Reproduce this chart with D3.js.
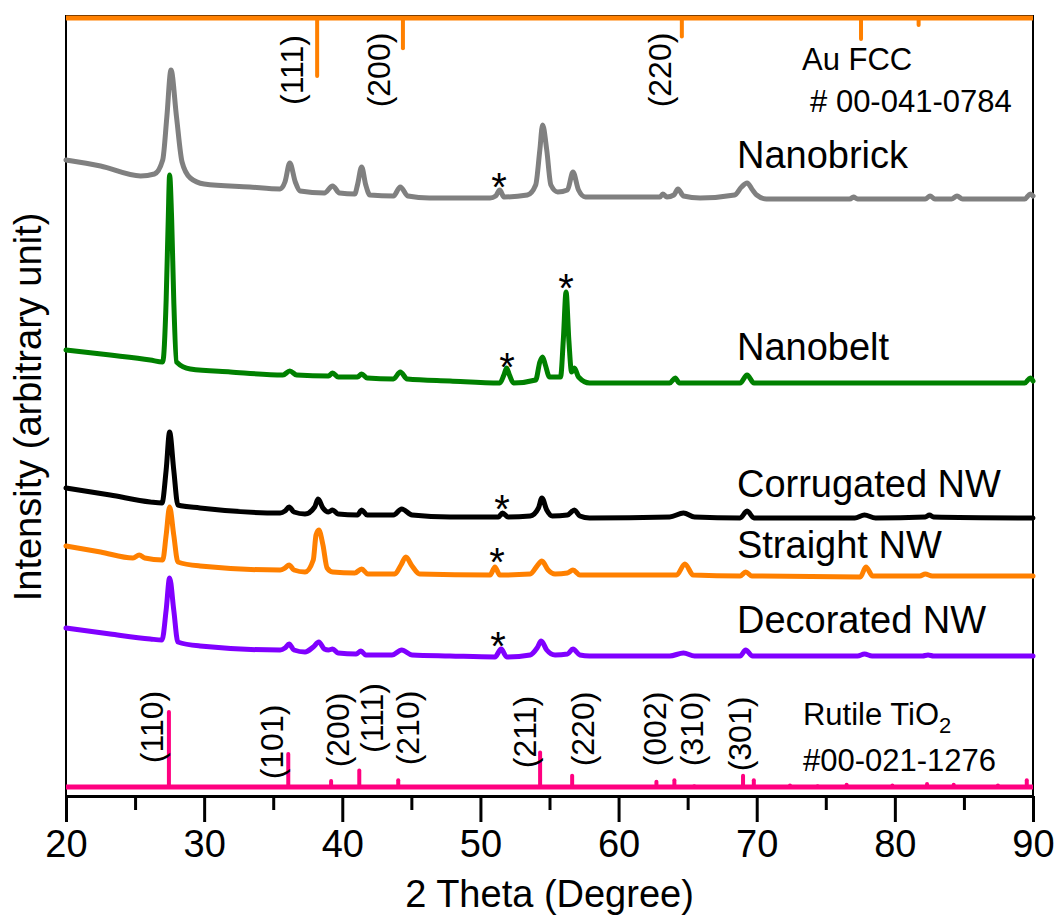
<!DOCTYPE html>
<html lang="en">
<head>
<meta charset="utf-8">
<title>XRD | TiO2 / Au nanostructures</title>
<script src="https://cdn.jsdelivr.net/npm/d3@7"></script>
<style>
  body { margin: 0; background: #fff; }
  text { font-family: "Liberation Sans", Arial, sans-serif; fill: #000; }
  .trace { fill: none; stroke-width: 5; stroke-linejoin: round; stroke-linecap: round; }
</style>
</head>
<body>
<div id="chart"></div>
<script>
// [2 theta, intensity (a.u., offset already applied)]
const nanobrick = [[20,636],[22.5,630],[25.4,620],[26.4,622],[27.0,636],[27.3,679],[27.6,726],[28.0,679],[28.4,634],[29.0,618],[30.0,612],[33.3,609],[35.5,607],[35.85,614],[36.2,633],[36.6,614],[36.95,605],[38.7,603],[39.3,610],[39.8,603],[40.9,602],[41.1,611],[41.4,629],[41.7,611],[42.0,601],[43.7,600],[44.2,609],[44.75,600],[46.3,598],[50.7,598],[51.1,600],[51.4,606],[51.7,599],[53.4,601],[54.0,611],[54.3,646],[54.5,671],[54.8,646],[55.1,611],[55.6,604],[56.3,606],[56.7,624],[57.1,606],[57.6,599],[61.5,599],[63.0,599],[63.2,602],[63.5,599],[64.0,601],[64.3,607],[64.7,600],[65.9,598],[68.4,601],[68.9,609],[69.3,613],[69.7,606],[70.0,601],[70.7,597],[76.75,597],[77.0,599],[77.3,597],[82.2,597],[82.55,600],[82.9,597],[84.1,597],[84.5,600],[84.9,597],[89.4,597],[89.8,602],[90,600]];
const nanobelt = [[20,446],[23.2,441],[26.1,436],[27.0,434],[27.25,496],[27.4,576],[27.5,621],[27.65,576],[27.8,496],[28.0,434],[29.0,427],[31.9,424],[35.7,421],[36.2,425],[36.7,421],[39.0,420],[39.3,423],[39.7,419],[41.1,419],[41.4,422],[41.8,418],[43.7,417],[44.2,424],[44.7,417],[47.8,415],[51.4,413],[51.7,421],[51.9,428],[52.1,421],[52.4,413],[54.0,416],[54.3,434],[54.5,439],[54.7,431],[55.0,419],[55.8,419],[56.0,456],[56.2,504],[56.4,456],[56.6,424],[56.8,428],[57.1,419],[57.9,413],[63.7,413],[64.1,418],[64.4,413],[68.8,413],[69.3,421],[69.8,413],[89.4,413],[89.8,418],[90,415]];
const corrugated = [[20,308],[23.2,301],[26.1,294],[26.95,293],[27.25,326],[27.5,364],[27.8,326],[28.1,291],[29.7,288],[35.5,283],[35.85,285],[36.15,289],[36.5,284],[37.3,282],[38.0,289],[38.25,297],[38.6,288],[39.0,284],[39.3,286],[39.7,282],[41.1,281],[41.4,286],[41.8,281],[43.7,281],[44.3,287],[45.05,281],[47.8,279],[51.3,279],[51.6,283],[52.0,279],[53.6,280],[54.2,288],[54.45,298],[54.8,286],[55.2,280],[56.3,281],[56.8,286],[57.2,280],[57.9,278],[63.7,279],[64.7,283],[65.5,279],[68.8,278],[69.3,285],[69.8,278],[77.1,278],[77.8,281],[78.6,278],[82.2,279],[82.5,281],[82.8,279],[90,278]];
const straight = [[20,250],[22.5,244],[24.85,238],[25.3,241],[25.7,238],[27.0,236],[27.25,261],[27.5,289],[27.8,261],[28.1,234],[29.7,230],[35.5,226],[35.85,228],[36.15,231],[36.5,226],[37.3,224],[37.9,236],[38.1,261],[38.3,266],[38.6,251],[38.9,228],[39.3,224],[40.9,223],[41.4,227],[41.85,222],[43.8,222],[44.25,231],[44.6,239],[45.05,230],[45.6,222],[50.7,221],[51.05,229],[51.4,221],[53.6,222],[54.1,230],[54.45,235],[54.9,226],[55.4,222],[56.3,223],[56.7,226],[57.2,221],[64.2,221],[64.8,232],[65.4,221],[68.8,220],[69.2,224],[69.65,220],[77.5,219],[77.9,229],[78.4,220],[81.8,220],[82.2,222],[82.7,220],[90,220]];
const decorated = [[20,168],[23.2,162],[26.1,157],[26.95,156],[27.25,186],[27.5,218],[27.8,186],[28.1,154],[29.7,150],[35.5,146],[35.85,148],[36.15,152],[36.5,146],[37.3,144],[37.9,149],[38.3,154],[38.7,147],[39.0,146],[39.3,147],[39.7,143],[41.0,142],[41.35,145],[41.7,141],[43.6,141],[44.3,146],[45.05,141],[47.8,140],[51.05,139],[51.5,147],[51.9,139],[53.6,141],[54.1,148],[54.4,155],[54.8,146],[55.4,141],[56.3,142],[56.7,147],[57.2,141],[57.9,140],[63.7,140],[64.7,143],[65.5,140],[68.8,140],[69.2,146],[69.7,140],[77.3,140],[77.8,142],[78.35,140],[82.0,140],[82.4,141],[82.8,140],[90,140]];

const seriesNames = ["Nanobrick", "Nanobelt", "Corrugated NW", "Straight NW", "Decorated NW"];
const seriesColors = ["#808080", "#008000", "#000000", "#ff8000", "#8000ff"];
const seriesLabelY = [628, 436, 299, 238, 163];
// asterisk marks [2 theta, intensity]
const stars = [[51.35,619],[51.92,439],[56.2,518],[51.56,297],[51.2,244],[51.27,160]];

// reference patterns
const auTheta = [38.18, 44.39, 64.58, 77.55, 81.72];
const auRel = [100, 52, 32, 36, 12];
const auHkl = ["(111)", "(200)", "(220)"];
const auHklTheta = [36.36, 42.66, 63.0];
const auBase = 778;

const rutileTheta = [27.45, 36.09, 39.19, 41.23, 44.05, 54.32, 56.64, 62.74, 64.04, 65.48, 69.01, 69.79, 72.41, 74.41, 76.51, 79.82, 82.33, 84.26, 87.46, 89.55];
const rutileRel = [100, 44, 8, 22, 9, 46, 15, 7, 9, 1, 15, 9, 2, 1, 3, 2, 4, 3, 2, 9];
const rutileHkl = ["(110)", "(101)", "(200)", "(111)", "(210)", "(211)", "(220)", "(002)", "(310)", "(301)"];
const rutileHklTheta = [26.23, 34.91, 39.69, 42.15, 44.76, 53.23, 57.43, 62.64, 65.32, 68.79];
const rutileHklY = [69, 54, 66, 78, 68, 64, 67, 67, 67, 62];
const rutileBase = 9;

const xTicks = [20, 30, 40, 50, 60, 70, 80, 90];
const xMinor = [25, 35, 45, 55, 65, 75, 85];

const W = 1059, H = 920;
const margin = {top: 16, right: 26, bottom: 124, left: 66};
const w = W - margin.left - margin.right;
const h = H - margin.top - margin.bottom;

const x = d3.scaleLinear().domain([20, 90]).range([0, w]);
const y = d3.scaleLinear().domain([0, 780]).range([h, 0]);
const auLen = d3.scaleLinear().domain([0, 100]).range([0, 58]);
const rutLen = d3.scaleLinear().domain([0, 100]).range([0, 75]);

const svg = d3.select("#chart").append("svg")
    .attr("width", W)
    .attr("height", H);

const g = svg.append("g")
    .attr("transform", "translate(" + margin.left + "," + margin.top + ")");

// frame
g.append("rect")
    .attr("width", w)
    .attr("height", h)
    .attr("fill", "none")
    .attr("stroke", "#000")
    .attr("stroke-width", 2);

const line = d3.line()
    .x(d => x(d[0]))
    .y(d => y(d[1]))
    .curve(d3.curveMonotoneX);

const data = [nanobrick, nanobelt, corrugated, straight, decorated];
data.forEach((s, i) => {
  g.append("path")
      .datum(s)
      .attr("class", "trace")
      .attr("stroke", seriesColors[i])
      .attr("d", line);
  g.append("text")
      .attr("x", x(68.57))
      .attr("y", y(seriesLabelY[i]))
      .attr("font-size", 38)
      .text(seriesNames[i]);
});

g.selectAll(".star")
  .data(stars)
  .enter().append("text")
    .attr("class", "star")
    .attr("x", d => x(d[0]))
    .attr("y", d => y(d[1]))
    .attr("dy", "0.6em")
    .attr("text-anchor", "middle")
    .attr("font-size", 40)
    .text("*");

// Au FCC reference (hanging from the top)
g.append("line")
    .attr("x1", 0).attr("x2", w)
    .attr("y1", y(auBase)).attr("y2", y(auBase))
    .attr("stroke", "#ff8000").attr("stroke-width", 5);
g.selectAll(".au")
  .data(auTheta)
  .enter().append("line")
    .attr("class", "au")
    .attr("x1", d => x(d)).attr("x2", d => x(d))
    .attr("y1", y(auBase))
    .attr("y2", (d, i) => y(auBase) + auLen(auRel[i]))
    .attr("stroke", "#ff8000").attr("stroke-width", 4)
    .attr("stroke-linecap", "round");
auHkl.forEach((t, i) => {
  g.append("text")
      .attr("transform", "translate(" + x(auHklTheta[i]) + "," + y(726) + ") rotate(-90)")
      .attr("text-anchor", "middle")
      .attr("dy", "0.35em")
      .attr("font-size", 32)
      .text(t);
});
g.append("text").attr("x", x(73.28)).attr("y", y(726)).attr("font-size", 31).text("Au FCC");
g.append("text").attr("x", x(73.86)).attr("y", y(684)).attr("font-size", 31).text("# 00-041-0784");

// Rutile TiO2 reference
g.append("line")
    .attr("x1", 0).attr("x2", w)
    .attr("y1", y(rutileBase)).attr("y2", y(rutileBase))
    .attr("stroke", "#ff0080").attr("stroke-width", 5);
g.selectAll(".rut")
  .data(rutileTheta)
  .enter().append("line")
    .attr("class", "rut")
    .attr("x1", d => x(d)).attr("x2", d => x(d))
    .attr("y1", y(rutileBase))
    .attr("y2", (d, i) => y(rutileBase) - rutLen(rutileRel[i]))
    .attr("stroke", "#ff0080").attr("stroke-width", 4)
    .attr("stroke-linecap", "round");
rutileHkl.forEach((t, i) => {
  g.append("text")
      .attr("transform", "translate(" + x(rutileHklTheta[i]) + "," + y(rutileHklY[i]) + ") rotate(-90)")
      .attr("text-anchor", "middle")
      .attr("dy", "0.35em")
      .attr("font-size", 32)
      .text(t);
});
const rt = g.append("text").attr("x", x(73.35)).attr("y", y(71)).attr("font-size", 31);
rt.append("tspan").text("Rutile TiO");
rt.append("tspan").attr("dy", 8).attr("font-size", 22).text("2");
g.append("text").attr("x", x(73.35)).attr("y", y(25)).attr("font-size", 31).text("#00-021-1276");

// axes
const xAxis = g.append("g")
    .attr("transform", "translate(0," + h + ")")
    .call(d3.axisBottom(x).tickValues(xTicks).tickSize(26).tickSizeOuter(0).tickPadding(8));
xAxis.select(".domain").attr("stroke-width", 3);
xAxis.selectAll(".tick line").attr("stroke-width", 3);
xAxis.selectAll(".tick text").attr("font-size", 38).attr("font-family", "Liberation Sans, Arial, sans-serif");

const minor = g.append("g")
    .attr("transform", "translate(0," + h + ")")
    .call(d3.axisBottom(x).tickValues(xMinor).tickSize(14).tickFormat(""));
minor.select(".domain").remove();
minor.selectAll(".tick line").attr("stroke-width", 3);

svg.append("text")
    .attr("x", margin.left + w / 2)
    .attr("y", 907)
    .attr("text-anchor", "middle")
    .attr("font-size", 38)
    .text("2 Theta (Degree)");

svg.append("text")
    .attr("transform", "translate(41," + 407 + ") rotate(-90)")
    .attr("text-anchor", "middle")
    .attr("font-size", 38)
    .text("Intensity (arbitrary unit)");
</script>
</body>
</html>
